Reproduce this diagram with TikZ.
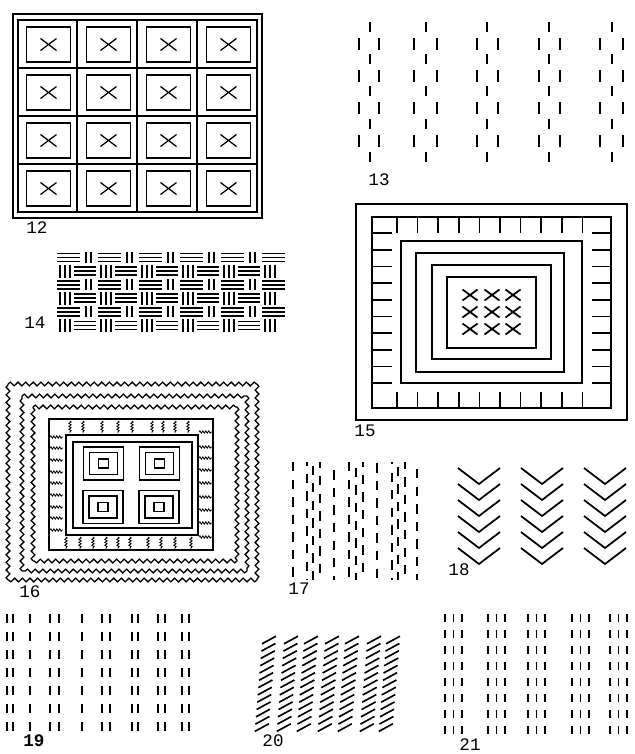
\documentclass[tikz,border=0pt]{standalone}
\usepackage{fontspec}
\setmonofont{Liberation Mono}
\usetikzlibrary{decorations.pathmorphing}

\begin{document}
\begin{tikzpicture}[x=0.03cm, y=-0.03cm, line width=1.1pt,
  num/.style={font=\ttfamily\fontsize{15}{15}\selectfont, inner sep=0pt},
  wavy/.style={decorate, decoration={snake, segment length=6.5pt, amplitude=1.6pt}},
  fringe/.style={line width=0.7pt, decorate, decoration={snake, segment length=2.5pt, amplitude=1pt}},
  dashbar/.style={line width=1.6pt},
  thickline/.style={line width=1.5pt}]
  \useasboundingbox (0,0) rectangle (634,754);

  % 12
  \draw[line width=1.3pt] (13,14) rectangle (262,218);
  \draw[line width=1.3pt] (18,20) rectangle (257,212);
  \foreach \x in {77,137,197} \draw (\x,20) -- (\x,212);
  \foreach \y in {68,116,164} \draw (18,\y) -- (257,\y);
  \foreach \i in {0,...,3}
    \foreach \j in {0,...,3} {
      \pgfmathsetmacro\cx{48.5+60*\i}
      \pgfmathsetmacro\cy{44.5+48*\j}
      \draw[line width=1.3pt] (\cx-22,\cy-17.5) rectangle (\cx+22,\cy+17.5);
      \draw (\cx-8,\cy-6) -- (\cx+8,\cy+6) (\cx-8,\cy+6) -- (\cx+8,\cy-6);
    }
  \node[num] (lab12) at (37,228) {12};

  % 13
  \foreach \c/\l/\r in {370/359/379, 426/414/437, 487/477/498, 549/539/560, 612/600/623} {
    \foreach \y in {27,59,91,124,157} \draw[dashbar] (\c,\y-5) -- (\c,\y+5);
    \foreach \y in {44,76,108,141} \draw[dashbar] (\l,\y-6) -- (\l,\y+6) (\r,\y-6) -- (\r,\y+6);
  }
  \node[num] (lab13) at (379,180) {13};

  % 14
  \foreach \r in {0,2,4} {
    \pgfmathsetmacro\yt{252+13.6*\r}
    \foreach \k in {0,...,5}
      \foreach \d in {1.5,5.5,9.5}
        \draw[thickline] (57+41*\k,\yt+\d) -- (80+41*\k,\yt+\d);
    \foreach \k in {0,...,4}
      \foreach \d in {2,7}
        \draw[thickline] (84+41*\k+\d,\yt) -- (84+41*\k+\d,\yt+11);
  }
  \foreach \r in {1,3,5} {
    \pgfmathsetmacro\yt{252+13.6*\r}
    \foreach \k in {0,...,4}
      \foreach \d in {1.5,5.5,9.5}
        \draw[thickline] (74+41*\k,\yt+\d) -- (96+41*\k,\yt+\d);
    \foreach \k in {0,...,5}
      \foreach \d in {1,6,11}
        \draw[thickline] (59+41*\k+\d,\yt-1) -- (59+41*\k+\d,\yt+12);
  }
  \node[num] (lab14) at (35,323) {14};

  % 15
  \begin{scope}[thickline]
    \draw (356,204) rectangle (627,420);
    \draw (372,217) rectangle (611,408);
    \draw (401,241) rectangle (582,383);
    \draw (416,253) rectangle (564,372);
    \draw (432,265) rectangle (551,359);
    \draw (447,277) rectangle (536,348);
    \foreach \i in {0,...,9} {
      \draw (397+20.6*\i,217) -- (397+20.6*\i,233);
      \draw (397+20.6*\i,392) -- (397+20.6*\i,408);
      \draw (372,233+16.7*\i) -- (392,233+16.7*\i);
      \draw (592,233+16.7*\i) -- (611,233+16.7*\i);
    }
    \foreach \x in {470,492,513}
      \foreach \y in {295,312,329}
        \draw (\x-7.5,\y-5.5) -- (\x+7.5,\y+5.5) (\x-7.5,\y+5.5) -- (\x+7.5,\y-5.5);
  \end{scope}
  \node[num] (lab15) at (365,431) {15};

  % 16
  \foreach \xa/\ya/\xb/\yb in {8/384/257/580, 22/396/247/571, 33/407/237/561} {
    \draw[wavy] (\xa,\ya) -- (\xb,\ya);
    \draw[wavy] (\xb,\ya) -- (\xb,\yb);
    \draw[wavy] (\xb,\yb) -- (\xa,\yb);
    \draw[wavy] (\xa,\yb) -- (\xa,\ya);
  }
  \draw[thickline] (49,419) rectangle (213,550);
  \draw[thickline] (66,435) rectangle (198,535);
  \draw (73,442) rectangle (192,528);
  \foreach \x in {70,83,102,118,132,152,163,175,188} \draw[fringe] (\x,421) -- (\x,433);
  \foreach \x in {66,80,93,106,118,130,148,161,175,191} \draw[fringe] (\x,537) -- (\x,549);
  \foreach \y in {437,448,460,472,483,495,507,518,530} \draw[fringe] (50,\y) -- (63,\y);
  \foreach \y in {432,447,458,470,483,497,510,523,537} \draw[fringe] (199,\y) -- (212,\y);
  \foreach \cx/\cy in {103.5/463.5, 159.5/463.5, 103/507, 159/507} {
    \draw[thickline] (\cx-20,\cy-16.5) rectangle (\cx+20,\cy+16.5);
    \draw (\cx-14,\cy-11) rectangle (\cx+14,\cy+11);
    \draw[thickline] (\cx-5,\cy-4.5) rectangle (\cx+5,\cy+4.5);
  }
  \node[num] (lab16) at (30,592) {16};

  % 17
  \foreach \x/\p in {293/0, 307/5, 313/12, 320/3, 334/8, 349/0, 356/10, 363/4,
                     377/14, 392/6, 398/11, 405/2, 417/9}
    \draw[dashbar, dash pattern=on 8pt off 7pt, dash phase=\p pt] (\x,462) -- (\x,580);
  \node[num] (lab17) at (299,589) {17};

  % 18
  \foreach \cx in {479,542,605}
    \foreach \k in {0,...,5}
      \draw[thickline] (\cx-21,468+16*\k) -- (\cx,484+16*\k) -- (\cx+21,468+16*\k);
  \node[num] (lab18) at (459,570) {18};

  % 19
  \foreach \x in {7,13,30,50,59,82,102,110,132,138,158,165,182,189}
    \foreach \k in {0,...,6}
      \draw[dashbar] (\x,613.5+18*\k) -- (\x,622.5+18*\k);
  \node[num, font=\ttfamily\bfseries\fontsize{15}{15}\selectfont] (lab19) at (34,741) {19};

  % 20
  \foreach \x in {265,287,307,328,348,370,389}
    \foreach \k in {0,...,12} {
      \pgfmathsetmacro\cy{640+7.3*\k}
      \pgfmathsetmacro\cx{\x+4-0.6*\k}
      \draw[line width=1.4pt] (\cx-7,\cy+3.8) -- (\cx+7,\cy-3.8);
    }
  \node[num] (lab20) at (273,741) {20};

  % 21
  \foreach \g in {445,488,528,572,610}
    \foreach \d in {0,8.5,17}
      \foreach \k in {0,...,7}
        \draw[dashbar] (\g+\d,614+16*\k) -- (\g+\d,622+16*\k);
  \node[num] (lab21) at (470,745) {21};
\end{tikzpicture}
\end{document}
